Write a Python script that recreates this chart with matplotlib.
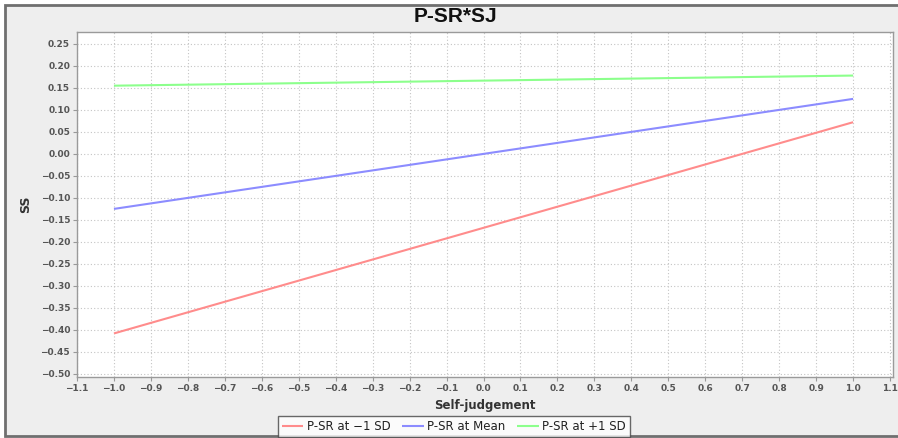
import numpy as np
import matplotlib
matplotlib.use("Agg")
import matplotlib.pyplot as plt
from matplotlib.patches import Rectangle
from matplotlib.ticker import FuncFormatter

# data
sj = [-1.0, 1.0]
ss_low = [-0.408, 0.072]
ss_mean = [-0.125, 0.125]
ss_high = [0.155, 0.178]
series_names = ["P-SR at \u22121 SD", "P-SR at Mean", "P-SR at +1 SD"]
series_colors = ["#ff8c8c", "#8c8cff", "#8cff8c"]

xticks = np.round(np.arange(-1.1, 1.1001, 0.1), 1)
yticks = np.round(np.arange(-0.50, 0.2501, 0.05), 2)


def fmt(decimals):
    def f(v, pos):
        v = round(v, decimals) + 0.0  # avoid -0.00
        return ("%.*f" % (decimals, v)).replace("-", "\u2212")
    return FuncFormatter(f)


W, H = 898, 438
fig = plt.figure(figsize=(W / 100, H / 100), dpi=100)
fig.patch.set_facecolor("white")

# outer chart panel (grey background with border, cropped on the right)
panel = Rectangle((5 / W, 2 / H), 1.2, (436 - 5) / H + 0.001, transform=fig.transFigure,
                  facecolor="#eeeeee", edgecolor="#6f6f6f", linewidth=2, zorder=-10)
fig.patches.append(panel)

ax = fig.add_axes([77 / W, 1 - 377 / H, (893 - 77) / W, (377 - 32) / H])
ax.set_facecolor("white")

for ys, name, col in zip([ss_low, ss_mean, ss_high], series_names, series_colors):
    ax.plot(sj, ys, color=col, linewidth=1.5, label=name, solid_capstyle="butt")

ax.set_xlim(-1.1, 1.108)
ax.set_ylim(-0.507, 0.277)
ax.set_xticks(xticks)
ax.set_yticks(yticks)
ax.xaxis.set_major_formatter(fmt(1))
ax.yaxis.set_major_formatter(fmt(2))
ax.tick_params(labelsize=6.5, labelcolor="#555555", color="#999999", length=3, width=0.8, pad=2)
for lab in ax.get_xticklabels() + ax.get_yticklabels():
    lab.set_fontweight("bold")

ax.grid(True, color="#c4c4c4", linestyle=(0, (1, 2)), linewidth=0.8)
ax.set_axisbelow(True)
for s in ax.spines.values():
    s.set_color("#9a9a9a")
    s.set_linewidth(1)

ax.set_xlabel("Self-judgement", fontsize=8.5, fontweight="bold", color="#333333", labelpad=4)
ax.set_ylabel("SS", fontsize=9, fontweight="bold", color="#333333", labelpad=6)

fig.text(455 / W, 1 - 16 / H, "P-SR*SJ", ha="center", va="center", fontsize=15,
         fontweight="bold", family="Liberation Sans", color="#111111")

leg = fig.legend(loc="lower center", bbox_to_anchor=(454 / W, 1 / H), ncol=3, fontsize=8.5,
                 frameon=True, fancybox=False, handlelength=1.8, handletextpad=0.3,
                 columnspacing=1.0, borderpad=0.35, borderaxespad=0)
leg.get_frame().set_edgecolor("#444444")
leg.get_frame().set_linewidth(1)
for t in leg.get_texts():
    t.set_color("#222222")

fig.savefig("out.png", dpi=100)
